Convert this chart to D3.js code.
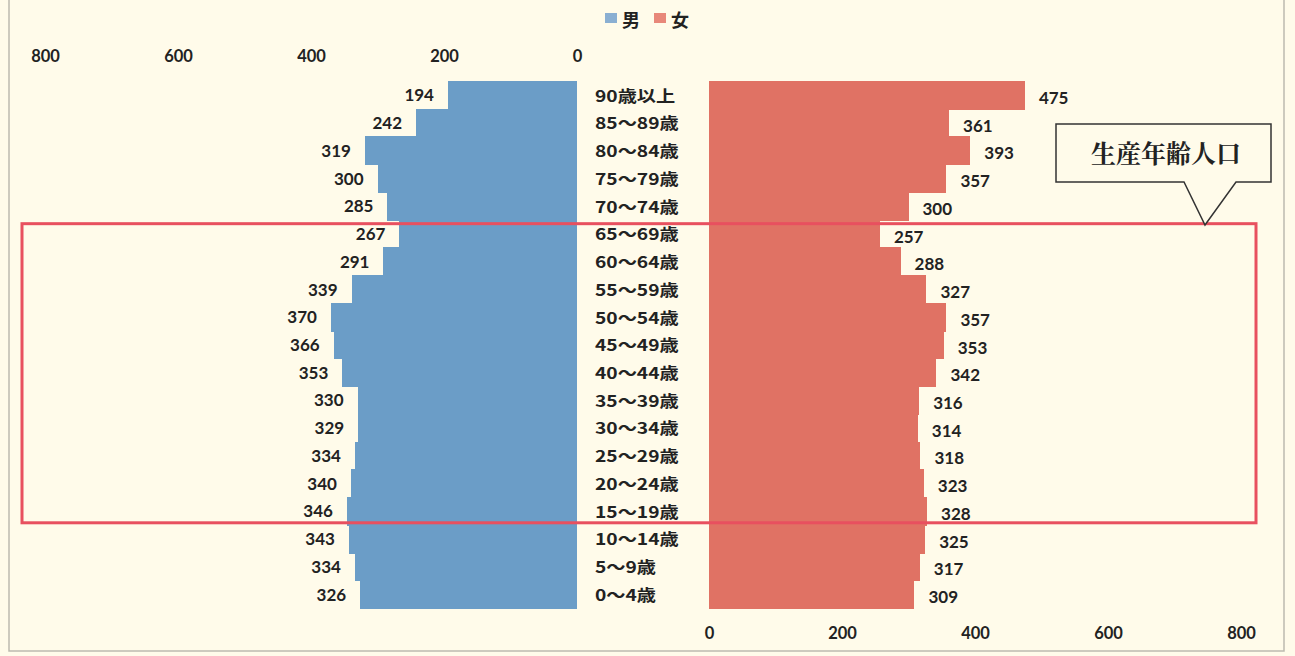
<!DOCTYPE html>
<html><head><meta charset="utf-8">
<script src="https://cdn.jsdelivr.net/npm/d3@7"></script>
<style>
html,body{margin:0;padding:0;background:#fffbea;}
svg{display:block;}
</style></head>
<body>
<svg id="c" width="1295" height="656"></svg>
<script>
const categories = ["90歳以上","85～89歳","80～84歳","75～79歳","70～74歳","65～69歳","60～64歳","55～59歳","50～54歳","45～49歳","40～44歳","35～39歳","30～34歳","25～29歳","20～24歳","15～19歳","10～14歳","5～9歳","0～4歳"];
const male =   [194,242,319,300,285,267,291,339,370,366,353,330,329,334,340,346,343,334,326];
const female = [475,361,393,357,300,257,288,327,357,353,342,316,314,318,323,328,325,317,309];
const tickValues = [0,200,400,600,800];
const seriesNames = ["男","女"];
const calloutText = "生産年齢人口";

const svg = d3.select("#c");
const W = 1295, H = 656;
const maleColor = "#6b9dc7", femaleColor = "#e07264";
const numFont = "Lato, 'Open Sans', sans-serif";
const cjkFont = "'Noto Sans CJK JP', sans-serif";
const txt = "#222";

svg.append("rect").attr("width",W).attr("height",H).attr("fill","#fffbea");
// frame
svg.append("path").attr("d","M9,-2 V651 H1284 V-2").attr("fill","none").attr("stroke","#bdbab0").attr("stroke-width",1.5);

const y = d3.scaleBand().domain(categories).range([81,608]).padding(0);
const xL = d3.scaleLinear().domain([0,800]).range([577,45]);
const xR = d3.scaleLinear().domain([0,800]).range([709,1241]);

// bars
svg.append("g").attr("shape-rendering","crispEdges").selectAll("rect").data(categories).join("rect")
  .attr("x",(d,i)=>xL(male[i])).attr("width",(d,i)=>xL(0)-xL(male[i]))
  .attr("y",d=>y(d)).attr("height",y.bandwidth()+1).attr("fill",maleColor);
svg.append("g").attr("shape-rendering","crispEdges").selectAll("rect").data(categories).join("rect")
  .attr("x",xR(0)).attr("width",(d,i)=>xR(female[i])-xR(0))
  .attr("y",d=>y(d)).attr("height",y.bandwidth()+1).attr("fill",femaleColor);

// value labels
svg.append("g").selectAll("text").data(categories).join("text")
  .attr("x",(d,i)=>xL(male[i])-14).attr("y",d=>y(d)+y.bandwidth()/2)
  .attr("text-anchor","end").attr("dominant-baseline","central")
  .attr("font-family",numFont).attr("font-weight","bold").attr("font-size",17).attr("fill",txt)
  .text((d,i)=>male[i]);
svg.append("g").selectAll("text").data(categories).join("text")
  .attr("x",(d,i)=>xR(female[i])+14).attr("y",d=>y(d)+y.bandwidth()/2+2.5)
  .attr("text-anchor","start").attr("dominant-baseline","central")
  .attr("font-family",numFont).attr("font-weight","bold").attr("font-size",17).attr("fill",txt)
  .text((d,i)=>female[i]);

// category labels (slightly stretched horizontally like the source)
svg.append("g").attr("transform","translate(595,0) scale(1.2,1)")
  .selectAll("text").data(categories).join("text")
  .attr("x",0).attr("y",d=>y(d)+y.bandwidth()/2)
  .attr("dominant-baseline","central")
  .attr("font-family",cjkFont).attr("font-weight","bold").attr("font-size",16).attr("fill",txt)
  .text(d=>d);

// axes
const axTop = d3.axisTop(xL).tickValues(tickValues).tickSize(0).tickPadding(0);
const gT = svg.append("g").attr("transform","translate(0,62)").call(axTop);
gT.select(".domain").remove();
gT.selectAll("text").attr("font-family",numFont).attr("font-weight","bold").attr("font-size",16.5).attr("fill",txt);
const axBot = d3.axisBottom(xR).tickValues(tickValues).tickSize(0).tickPadding(0);
const gB = svg.append("g").attr("transform","translate(0,627)").call(axBot);
gB.select(".domain").remove();
gB.selectAll("text").attr("font-family",numFont).attr("font-weight","bold").attr("font-size",16.5).attr("fill",txt);

// legend
const leg = svg.append("g");
[[605,"#8aafd2"],[654,"#e8887a"]].forEach(([lx,c],i)=>{
  leg.append("rect").attr("x",lx).attr("y",13).attr("width",12).attr("height",10).attr("fill",c);
  leg.append("text").attr("x",lx+17).attr("y",18.5).attr("dominant-baseline","central")
    .attr("font-family",cjkFont).attr("font-weight","bold").attr("font-size",18).attr("fill",txt).text(seriesNames[i]);
});

// highlight rectangle (65~69 through 15~19)
const r0 = y("65～69歳"), r1 = y("15～19歳")+y.bandwidth();
svg.append("rect").attr("x",22).attr("y",r0+4).attr("width",1234).attr("height",(r1-2)-(r0+4))
  .attr("fill","none").attr("stroke","#e8505f").attr("stroke-width",3);

// callout
svg.append("path").attr("d","M1056,124 H1271 V182 H1236 L1205,225 L1184,182 H1056 Z")
  .attr("fill","#fffbea").attr("stroke","#333").attr("stroke-width",1.5);
svg.append("text").attr("x",1166).attr("y",152).attr("text-anchor","middle").attr("dominant-baseline","central")
  .attr("font-family","'Noto Serif CJK JP','Noto Sans CJK JP',serif").attr("font-weight","bold").attr("font-size",25).attr("fill",txt)
  .text(calloutText);
</script>
</body></html>
